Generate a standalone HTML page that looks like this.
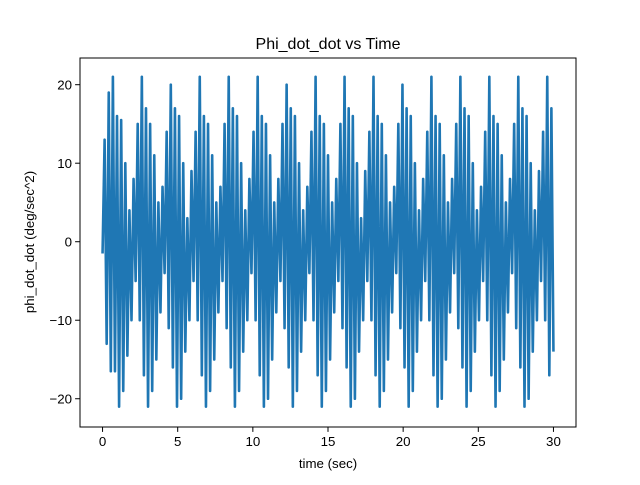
<!DOCTYPE html>
<html><head><meta charset="utf-8"><style>
body{margin:0;background:#fff;}
svg text{font-family:"Liberation Sans","DejaVu Sans",sans-serif;fill:#000;}
</style></head><body>
<svg id="chart" width="640" height="480" xmlns="http://www.w3.org/2000/svg">
<rect width="640" height="480" fill="#fff"/>
<text x="328" y="49" font-size="16" text-anchor="middle">Phi_dot_dot vs Time</text>
<g id="plot"></g>
<rect x="80" y="58" width="496" height="369" fill="none" stroke="#000" stroke-width="1"/>
<g id="xt"></g>
<g id="yt"></g>
<text x="328" y="468" font-size="13.3" text-anchor="middle">time (sec)</text>
<text transform="translate(34,242) rotate(-90)" font-size="13.3" text-anchor="middle">phi_dot_dot (deg/sec^2)</text>
</svg>
<script>
const xTicks=[0,5,10,15,20,25,30];
const yTicks=[-20,-10,0,10,20];
const tStart=0, tEnd=30;
const extremaValues=[
-1.5,13,-13,19,-16.5,
21,-16.5,16,-21,15.5,-19,10,-14.5,4,-10,8,-5,15,-10,
21,-17,17,-21,15,-19,11,-15,5,-9,7,-4,14,-11,
20,-16,17,-21,16,-20,10,-14,3,-10,9,-5,14,-10,
21,-17,16,-21,15,-19,11,-15,5,-9,7,-5,15,-11,
21,-16,17,-21,16,-19,10,-14,4,-10,8,-4,14,-10,
21,-17,16,-21,15,-20,11,-15,5,-9,8,-5,15,-11,
20,-16,17,-21,16,-19,10,-14,4,-10,7,-4,14,-10,
21,-17,16,-21,15,-19,11,-15,5,-9,8,-5,15,-11,
21,-16,17,-21,16,-20,10,-14,3,-10,9,-5,14,-10,
21,-17,16,-21,15,-19,11,-15,5,-9,7,-4,15,-11,
20,-16,17,-21,16,-19,10,-14,4,-10,8,-5,14,-10,
21,-17,16,-21,15,-20,11,-15,5,-9,8,-4,15,-11,
21,-16,17,-21,16,-19,10,-14,4,-10,7,-5,14,-10,
21,-17,16,-21,15,-19,11,-15,5,-9,8,-4,15,-11,
21,-16,17,-21,16,-20,10,-14,4,-10,9,-5,14,-10,
21,-17,17,-14
];
const NS="http://www.w3.org/2000/svg";
const L=80,R=576,T=58,B=427,xmin=-1.5,xmax=31.5,ymin=-23.6,ymax=23.4;
const xs=v=>L+(v-xmin)/(xmax-xmin)*(R-L);
const ys=v=>B-(v-ymin)/(ymax-ymin)*(B-T);
function mk(tag,attrs,parent){const e=document.createElementNS(NS,tag);for(const k in attrs)e.setAttribute(k,attrs[k]);parent.appendChild(e);return e;}
const plot=document.getElementById('plot');
const n=extremaValues.length;
let d='';
extremaValues.forEach((v,i)=>{const t=tStart+(tEnd-tStart)*i/(n-1);d+=(i?'L':'M')+xs(t).toFixed(2)+','+ys(v).toFixed(2);});
const line=mk('path',{d:d,fill:'none',stroke:'#1f77b4','stroke-width':2.6,'stroke-linejoin':'round'},plot);


const xg=document.getElementById('xt');
xTicks.forEach(v=>{const x=xs(v);
const tk=mk('line',{x1:x,x2:x,y1:B,y2:B+4.9,stroke:'#000'},xg);


const tx=mk('text',{x:x,y:B+19,'font-size':13.3,'text-anchor':'middle'},xg);tx.textContent=v;

});
const yg=document.getElementById('yt');
yTicks.forEach(v=>{const y=ys(v);
const tk=mk('line',{x1:L-4.9,x2:L,y1:y,y2:y,stroke:'#000'},yg);


const tx=mk('text',{x:L-8,y:y+4.8,'font-size':13.3,'text-anchor':'end'},yg);tx.textContent=v<0?'\u2212'+(-v):v;

});
</script>
</body></html>
